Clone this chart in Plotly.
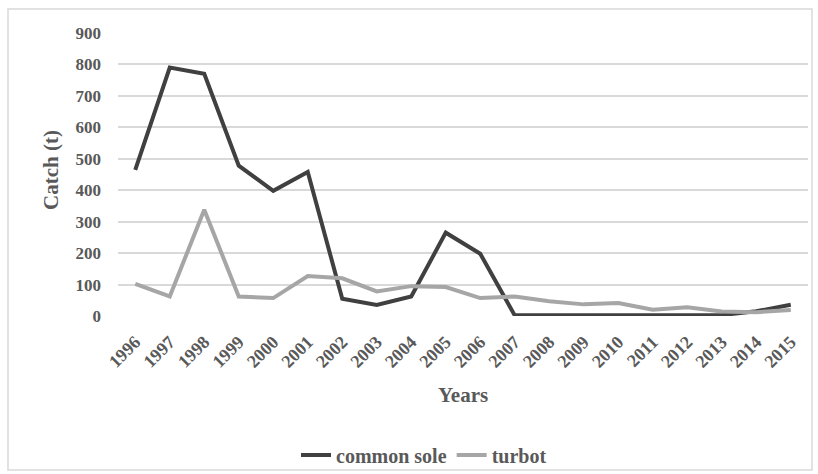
import plotly.graph_objects as go

years = [str(y) for y in range(1996, 2016)]
common_sole = [465, 790, 770, 478, 398, 458, 55, 35, 62, 265, 198, 2, 2, 2, 2, 2, 2, 3, 15, 36]
turbot = [102, 62, 338, 62, 57, 127, 120, 78, 95, 92, 57, 62, 47, 37, 41, 20, 28, 14, 12, 19]

FONT = "Liberation Serif"
TXT = "#595959"

fig = go.Figure()
fig.add_trace(go.Scatter(x=years, y=common_sole, mode="lines", name="common sole",
                         line=dict(color="#404040", width=4)))
fig.add_trace(go.Scatter(x=years, y=turbot, mode="lines", name="turbot",
                         line=dict(color="#a6a6a6", width=4)))

L, R, T, B = 118, 10, 33, 158
W, H = 818, 474
pw, ph = W - L - R, H - T - B

fig.update_layout(
    width=W, height=H,
    margin=dict(l=L, r=R, t=T, b=B, autoexpand=False),
    paper_bgcolor="white", plot_bgcolor="white",
    font=dict(family=FONT, color=TXT, size=14),
    showlegend=True,
    legend=dict(orientation="h", xanchor="center", x=(424 - L) / pw,
                yanchor="middle", y=(H - 455 - B) / ph,
                bgcolor="rgba(0,0,0,0)",
                font=dict(family=FONT, size=20, color=TXT, weight="bold")),
    xaxis=dict(type="category", range=[-0.5, 19.5], showgrid=False,
               showline=False, zeroline=False, ticks="",
               tickangle=-45, ticklabelstandoff=11,
               tickfont=dict(family=FONT, size=18, color=TXT, weight="bold")),
    yaxis=dict(range=[0, 900], dtick=100, showgrid=True, gridcolor="#d9d9d9",
               gridwidth=1.5, zeroline=False, showline=False, ticks="",
               tickfont=dict(family=FONT, size=17, color=TXT, weight="bold"),
               ticklabelstandoff=16),
)

# axis titles
fig.add_annotation(text="Catch (t)", xref="paper", yref="paper",
                   x=(51 - L) / pw, y=(H - 170 - B) / ph, textangle=-90,
                   xanchor="center", yanchor="middle",
                   showarrow=False, font=dict(family=FONT, size=21, color=TXT, weight="bold"))
fig.add_annotation(text="Years", xref="paper", yref="paper",
                   x=(463 - L) / pw, y=(H - 395 - B) / ph,
                   xanchor="center", yanchor="middle",
                   showarrow=False, font=dict(family=FONT, size=21, color=TXT, weight="bold"))

# outer chart frame
fig.add_shape(type="rect", xref="paper", yref="paper",
              x0=(8 - L) / pw, x1=(812 - L) / pw,
              y0=(H - 470 - B) / ph, y1=(H - 9 - B) / ph,
              line=dict(color="#d9d9d9", width=1.5), layer="below")

fig.write_html("out.html", config={"displayModeBar": False},
               post_script="document.body.style.margin='0';")
